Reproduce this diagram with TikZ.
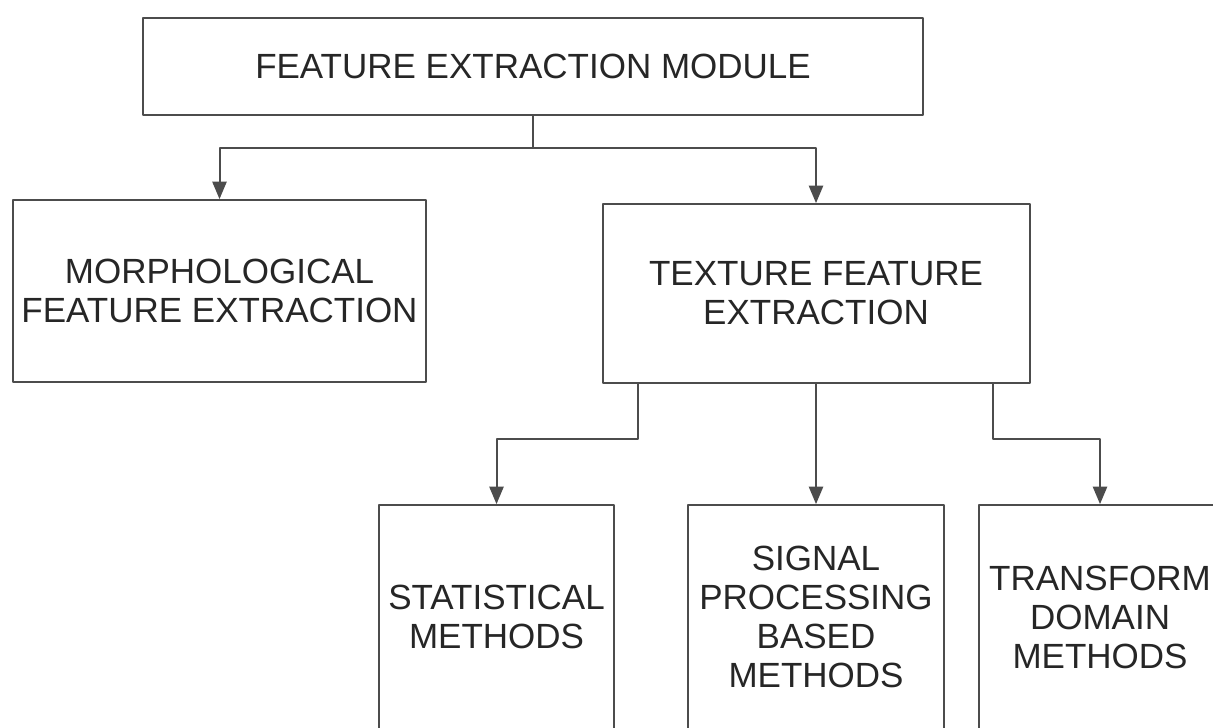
\documentclass[tikz,border=0pt]{standalone}
\usepackage{fontspec}
\setmainfont{Liberation Sans}
\usepackage{tikz}
\usetikzlibrary{arrows}
\tikzset{
    box/.style={%Block format configuration
        draw=black!70,
        line width=1pt,
        rectangle,
        inner sep=2pt,
        align=center,
        text=black!85,
        font=\fontsize{17.5}{19.5}\selectfont
        },
    link/.style={draw=black!70,line width=1pt}
    }

\begin{document}
\begin{tikzpicture}[line cap=round,line join=round,>=triangle 45,x=0.5pt,y=-0.5pt]
\useasboundingbox (0,0) rectangle (1213,727);
\clip (0,0) rectangle (1213,727);
\fill[white] (0,0) rectangle (1213,727);
\node[box,minimum width=390pt,minimum height=48.5pt] (module) at (533,66.5) {FEATURE EXTRACTION MODULE};
\node[box,minimum width=206.5pt,minimum height=91pt] (morph) at (219.5,291) {MORPHOLOGICAL\\FEATURE EXTRACTION};
\node[box,minimum width=213.5pt,minimum height=89.5pt] (texture) at (816,293.5) {TEXTURE FEATURE\\EXTRACTION};
\node[box,minimum width=117.5pt,minimum height=112pt] (stat) at (496.5,617) {STATISTICAL\\METHODS};
\node[box,minimum width=128pt,minimum height=112pt] (signal) at (816,617) {SIGNAL\\PROCESSING\\BASED\\METHODS};
\node[box,minimum width=121pt,minimum height=112pt] (transform) at (1100,617) {TRANSFORM\\DOMAIN\\METHODS};
% module to the two extraction blocks
\draw[link] (module.south) -- ++(0,32) coordinate (split);
\draw[link,->] (split) -| (morph.north);
\draw[link,->] (split) -| (texture.north);
% texture block to the three method blocks
\draw[link,->] ([xshift=-89pt]texture.south) -- ++(0,55) -| (stat.north);
\draw[link,->] (texture.south) -- (signal.north);
\draw[link,->] ([xshift=88.5pt]texture.south) -- ++(0,55) -| (transform.north);
\end{tikzpicture}
\end{document}
